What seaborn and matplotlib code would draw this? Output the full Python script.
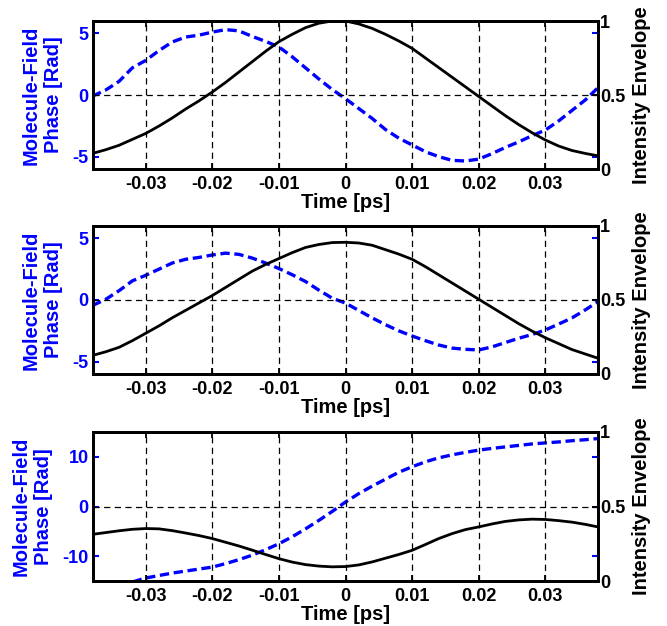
import numpy as np
import pandas as pd
import matplotlib
matplotlib.use("Agg")
import matplotlib.pyplot as plt
import seaborn as sns

# ---------------- data ----------------
time_ps = [-0.038, -0.036, -0.034, -0.032, -0.030, -0.028, -0.026, -0.024, -0.022, -0.020,
           -0.018, -0.016, -0.014, -0.012, -0.010, -0.008, -0.006, -0.004, -0.002, 0.000,
           0.002, 0.004, 0.006, 0.008, 0.010, 0.012, 0.014, 0.016, 0.018, 0.020,
           0.022, 0.024, 0.026, 0.028, 0.030, 0.032, 0.034, 0.036, 0.038]

phase_1 = [-0.1, 0.4, 1.1, 2.2, 2.8, 3.6, 4.3, 4.7, 4.85, 5.1,
           5.3, 5.2, 4.75, 4.35, 3.9, 3.1, 2.2, 1.3, 0.45, -0.3,
           -1.1, -1.9, -2.8, -3.5, -4.05, -4.6, -5.0, -5.3, -5.35, -5.2,
           -4.75, -4.25, -3.8, -3.3, -2.84, -2.1, -1.25, -0.4, 0.65]
intensity_1 = [0.105, 0.13, 0.16, 0.20, 0.24, 0.29, 0.345, 0.405, 0.46, 0.52,
               0.585, 0.655, 0.725, 0.795, 0.86, 0.91, 0.955, 0.985, 1.0, 1.0,
               0.98, 0.95, 0.91, 0.865, 0.815, 0.75, 0.685, 0.62, 0.555, 0.49,
               0.425, 0.36, 0.30, 0.245, 0.196, 0.155, 0.125, 0.105, 0.088]

phase_2 = [-0.45, 0.05, 0.75, 1.55, 2.0, 2.5, 3.0, 3.3, 3.45, 3.65,
           3.8, 3.7, 3.4, 3.0, 2.55, 2.05, 1.5, 0.8, 0.15, -0.25,
           -0.85, -1.45, -2.0, -2.5, -2.92, -3.3, -3.65, -3.9, -4.0, -4.05,
           -3.8, -3.45, -3.1, -2.8, -2.43, -1.95, -1.45, -0.8, -0.1]
intensity_2 = [0.125, 0.15, 0.18, 0.225, 0.275, 0.325, 0.38, 0.43, 0.48, 0.53,
               0.585, 0.64, 0.695, 0.74, 0.78, 0.82, 0.855, 0.875, 0.888, 0.89,
               0.885, 0.87, 0.84, 0.81, 0.775, 0.725, 0.67, 0.615, 0.56, 0.505,
               0.45, 0.395, 0.34, 0.29, 0.245, 0.205, 0.165, 0.135, 0.105]

phase_3 = [-17.5, -16.8, -16.0, -15.2, -14.4, -13.9, -13.4, -13.0, -12.6, -12.2,
           -11.5, -10.7, -9.8, -8.7, -7.5, -6.1, -4.5, -2.8, -1.0, 0.9,
           2.6, 4.1, 5.5, 6.9, 8.0, 9.0, 9.8, 10.4, 10.9, 11.35,
           11.7, 12.0, 12.3, 12.6, 12.8, 13.0, 13.25, 13.45, 13.7]
intensity_3 = [0.313, 0.325, 0.337, 0.347, 0.352, 0.35, 0.338, 0.322, 0.305, 0.285,
               0.26, 0.235, 0.207, 0.178, 0.15, 0.127, 0.11, 0.1, 0.095, 0.097,
               0.108, 0.128, 0.153, 0.178, 0.206, 0.245, 0.285, 0.318, 0.345, 0.363,
               0.383, 0.4, 0.41, 0.415, 0.413, 0.405, 0.395, 0.38, 0.362]

x_ticks = [-0.03, -0.02, -0.01, 0, 0.01, 0.02, 0.03]
x_tick_labels = ["-0.03", "-0.02", "-0.01", "0", "0.01", "0.02", "0.03"]
phase_ticks = [[-5, 0, 5], [-5, 0, 5], [-10, 0, 10]]
phase_limits = [(-6, 6), (-6, 6), (-15, 15)]
intensity_ticks = [0, 0.5, 1]
intensity_tick_labels = ["0", "0.5", "1"]
phases = [phase_1, phase_2, phase_3]
intensities = [intensity_1, intensity_2, intensity_3]

xlabel_text = "Time [ps]"
left_label = "Molecule-Field\nPhase [Rad]"
right_label = "Intensity Envelope"

# ---------------- style ----------------
sns.set_style("white")
plt.rcParams['font.family'] = ['Liberation Sans', 'DejaVu Sans']
plt.rcParams['font.weight'] = 'bold'
plt.rcParams['axes.labelweight'] = 'bold'
plt.rcParams['text.color'] = 'black'
plt.rcParams['axes.labelcolor'] = 'black'
plt.rcParams['xtick.color'] = 'black'
plt.rcParams['ytick.color'] = 'black'

BLUE = (0, 0, 1)
fig = plt.figure(figsize=(6.67, 6.26), dpi=100)

W, H = 667.0, 626.0
boxes = [(93, 21, 598, 169), (93, 226, 598, 374), (93, 432, 598, 581)]

for i, (l, t, r, b) in enumerate(boxes):
    pos = [l / W, 1 - b / H, (r - l) / W, (b - t) / H]
    ax = fig.add_axes(pos)
    ax2 = ax.twinx()

    df = pd.DataFrame({"t": time_ps, "phase": phases[i], "inten": intensities[i]})

    sns.lineplot(data=df, x="t", y="inten", ax=ax2, color="black", linewidth=2.0)
    sns.lineplot(data=df, x="t", y="phase", ax=ax, color=BLUE, linewidth=2.4,
                 dashes=(2.8, 1.4))

    ax.set_xlim(-0.0379, 0.0379)
    ax.set_ylim(*phase_limits[i])
    ax2.set_ylim(0, 1)

    ax2.set_xticks(x_ticks)
    ax.set_xticks(x_ticks)
    ax.set_xticklabels(x_tick_labels)
    for xv in x_ticks:
        ax2.axvline(xv, color="black", linewidth=0.9, linestyle=(0, (5, 3.5)), zorder=0)
    ax2.axhline(0.5, color="black", linewidth=0.9, linestyle=(0, (5, 3.5)), zorder=0)

    ax.set_yticks(phase_ticks[i])
    ax.set_yticklabels([str(v) for v in phase_ticks[i]])
    ax2.set_yticks(intensity_ticks)
    ax2.set_yticklabels(intensity_tick_labels)

    ax.tick_params(axis="x", which="both", direction="in", top=True, bottom=True,
                   length=4, width=1.3, color="black", labelsize=13, pad=5,
                   labelcolor="black")
    ax.tick_params(axis="y", which="both", direction="in", left=True, right=True,
                   labelright=False, length=4, width=1.5, color=BLUE,
                   labelcolor=BLUE, labelsize=13, pad=3)
    ax2.tick_params(axis="y", which="both", direction="in", right=True, left=False,
                    length=4, width=1.3, color="black", labelcolor="black",
                    labelsize=13, pad=1.5)
    ax2.tick_params(axis="x", which="both", bottom=False, top=False)

    for a in (ax, ax2):
        for s in a.spines.values():
            s.set_visible(True)
            s.set_linewidth(2.0)
            s.set_color("black")

    ax.set_xlabel(xlabel_text, fontsize=14.5, fontweight="bold", labelpad=0,
                  color="black")
    ax.set_ylabel(left_label, fontsize=14.5, fontweight="bold", color=BLUE,
                  labelpad=7, linespacing=1.2)
    ax2.set_ylabel(right_label, fontsize=14.5, fontweight="bold", color="black",
                   labelpad=5)

fig.savefig("out.png", dpi=100)
